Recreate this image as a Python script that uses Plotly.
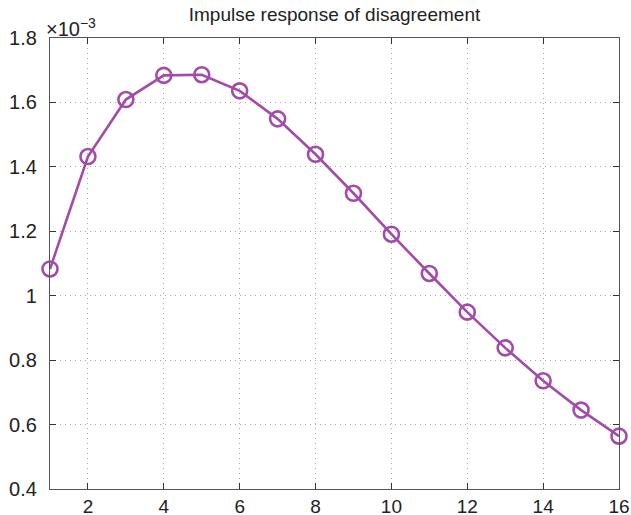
import plotly.graph_objects as go

# impulse response, in units of 1e-3
periods = list(range(1, 17))
response_e3 = [1.083, 1.432, 1.609, 1.684, 1.686, 1.636, 1.549, 1.439,
               1.318, 1.191, 1.069, 0.949, 0.838, 0.736, 0.645, 0.564]

x_ticks = [2, 4, 6, 8, 10, 12, 14, 16]
y_ticks = [0.4, 0.6, 0.8, 1.0, 1.2, 1.4, 1.6, 1.8]
y_labels = ["0.4", "0.6", "0.8", "1", "1.2", "1.4", "1.6", "1.8"]

purple = "rgb(162,75,168)"
axis_col = "#555555"
font_fam = "Liberation Sans, Arial, sans-serif"

fig = go.Figure()

fig.add_trace(go.Scatter(
    x=periods,
    y=response_e3,
    mode="lines+markers",
    line=dict(color=purple, width=2.6),
    marker=dict(symbol="circle-open", size=15, color=purple,
                line=dict(width=2.6, color=purple)),
    cliponaxis=False,
    showlegend=False
))

axis_common = dict(
    showline=True, linecolor=axis_col, linewidth=1.3, mirror="ticks",
    ticks="inside", ticklen=6, tickcolor="#333", tickwidth=1.3,
    showgrid=True, gridcolor="#a8a8a8", griddash="1px,4px", gridwidth=1,
    zeroline=False, automargin=False,
)

fig.update_xaxes(range=[1, 16], tickvals=x_ticks, ticklabelstandoff=0,
                 tickfont=dict(family=font_fam, size=19, color="#222"), **axis_common)
fig.update_yaxes(range=[0.4, 1.8], tickvals=y_ticks, ticktext=y_labels,
                 ticklabelstandoff=8,
                 tickfont=dict(family=font_fam, size=20, color="#222"), **axis_common)

fig.add_annotation(
    text="×10<sup>−3</sup>", xref="paper", yref="paper", x=0, y=1,
    xanchor="left", yanchor="bottom", showarrow=False, yshift=-4, xshift=-6,
    font=dict(family=font_fam, size=20, color="#222")
)

fig.update_layout(
    title=dict(text="Impulse response of disagreement", x=0.5, xanchor="center",
               xref="paper", y=0.985, yanchor="top",
               font=dict(family=font_fam, size=19, color="#222")),
    width=631, height=515,
    margin=dict(l=50, r=12, t=38, b=26),
    plot_bgcolor="white", paper_bgcolor="white",
)

# drop the default 8px page margin so the figure fills the window
fig.write_html("out.html", config={"displayModeBar": False},
               post_script="document.body.style.margin='0';document.body.style.overflow='hidden';")
